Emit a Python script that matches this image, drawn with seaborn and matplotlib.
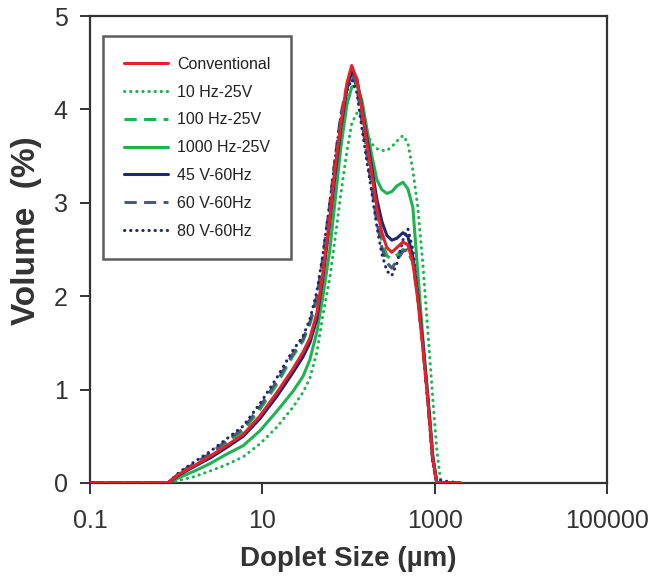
import matplotlib
matplotlib.use("Agg")
import matplotlib.pyplot as plt
import matplotlib.ticker as mticker
import seaborn as sns

# droplet size grid (um) and volume (%) per condition
sizes = [0.1, 0.8, 1.1, 1.65, 2.5, 3.7, 6.0, 9.4, 14.8, 22.6, 29.6, 35.6, 43, 50.5,
         60.8, 69.5, 81.6, 95.8, 109, 125, 143, 163, 187, 213, 244, 279, 318, 364,
         428, 489, 558, 638, 729, 834, 953, 1060, 1180, 1312, 2000]

conventional = [0, 0, 0.10, 0.19, 0.29, 0.39, 0.52, 0.72, 0.97, 1.22, 1.40, 1.55, 1.82,
                2.25, 2.85, 3.35, 3.85, 4.28, 4.47, 4.32, 4.00, 3.65, 3.30, 2.95, 2.68,
                2.52, 2.47, 2.52, 2.58, 2.55, 2.36, 1.96, 1.45, 0.89, 0.25, 0, 0, 0, 0]
hz10_25v = [0, 0, 0.03, 0.07, 0.13, 0.19, 0.28, 0.42, 0.60, 0.81, 0.97, 1.12, 1.40,
            1.80, 2.20, 2.60, 3.10, 3.55, 3.85, 3.96, 3.92, 3.75, 3.63, 3.58, 3.56,
            3.56, 3.60, 3.66, 3.72, 3.64, 3.35, 2.95, 2.35, 1.62, 0.89, 0.35, 0, 0, 0]
hz100_25v = [0, 0, 0.10, 0.20, 0.31, 0.42, 0.56, 0.79, 1.06, 1.36, 1.52, 1.70, 1.96,
             2.38, 2.95, 3.42, 3.92, 4.22, 4.36, 4.25, 3.90, 3.55, 3.20, 2.90, 2.60,
             2.43, 2.40, 2.44, 2.50, 2.48, 2.36, 1.98, 1.48, 0.88, 0.22, 0, 0, 0, 0]
hz1000_25v = [0, 0, 0.06, 0.13, 0.21, 0.30, 0.40, 0.56, 0.77, 0.98, 1.14, 1.32, 1.62,
              2.00, 2.50, 3.00, 3.60, 4.05, 4.24, 4.26, 4.10, 3.80, 3.50, 3.25, 3.14,
              3.10, 3.12, 3.18, 3.22, 3.15, 2.95, 2.25, 1.55, 0.92, 0.28, 0, 0, 0, 0]
v45_60hz = [0, 0, 0.09, 0.18, 0.27, 0.37, 0.50, 0.69, 0.93, 1.18, 1.35, 1.50, 1.76,
            2.20, 2.80, 3.28, 3.80, 4.22, 4.42, 4.33, 4.02, 3.70, 3.37, 3.04, 2.80,
            2.65, 2.60, 2.62, 2.68, 2.64, 2.42, 2.00, 1.50, 0.92, 0.28, 0, 0, 0, 0]
v60_60hz = [0, 0, 0.11, 0.21, 0.32, 0.44, 0.58, 0.82, 1.09, 1.38, 1.54, 1.72, 2.00,
            2.42, 3.00, 3.45, 3.95, 4.25, 4.38, 4.25, 3.88, 3.52, 3.15, 2.80, 2.52,
            2.36, 2.30, 2.38, 2.48, 2.50, 2.38, 2.00, 1.48, 0.88, 0.22, 0, 0, 0, 0]
v80_60hz = [0, 0, 0.12, 0.23, 0.34, 0.46, 0.61, 0.85, 1.13, 1.42, 1.57, 1.75, 2.05,
            2.45, 3.00, 3.45, 3.92, 4.20, 4.32, 4.18, 3.80, 3.45, 3.10, 2.75, 2.45,
            2.27, 2.22, 2.35, 2.60, 2.72, 2.50, 2.00, 1.45, 0.85, 0.20, 0.03, 0.03, 0.02, 0]

labels = ["Conventional", "10 Hz-25V", "100 Hz-25V", "1000 Hz-25V",
          "45 V-60Hz", "60 V-60Hz", "80 V-60Hz"]
series = [conventional, hz10_25v, hz100_25v, hz1000_25v, v45_60hz, v60_60hz, v80_60hz]

red = "#e8202a"
green = "#1db34f"
navy = "#1c2a6e"
slate = "#4e5b78"
dot = (0, (0.1, 1.9))
dash = (0, (4, 2.4))
styles = [
    dict(color=red, linestyle="-"),
    dict(color=green, linestyle=dot, dash_capstyle="round"),
    dict(color=green, linestyle=dash),
    dict(color=green, linestyle="-"),
    dict(color=navy, linestyle="-"),
    dict(color=slate, linestyle=dash),
    dict(color=navy, linestyle=dot, dash_capstyle="round"),
]
zorders = [9, 3, 4, 5, 8, 6, 7]

sns.set_style("ticks")
plt.rcParams["font.family"] = ["Liberation Sans", "DejaVu Sans"]

fig = plt.figure(figsize=(6.51, 5.78), dpi=100)
ax = fig.add_axes([90 / 651, 1 - 483 / 578, 517 / 651, 467 / 578])

for lab, vals, st, z in zip(labels, series, styles, zorders):
    sns.lineplot(x=sizes, y=vals, ax=ax, label=lab, linewidth=2.2, zorder=z, **st)

ax.set_xscale("log")
ax.set_xlim(0.1, 100000)
ax.set_ylim(0, 5)
ax.xaxis.set_major_locator(mticker.FixedLocator([0.1, 10, 1000, 100000]))
ax.xaxis.set_major_formatter(mticker.FixedFormatter(["0.1", "10", "1000", "100000"]))
ax.xaxis.set_minor_locator(mticker.NullLocator())
ax.set_yticks([0, 1, 2, 3, 4, 5])

for s in ax.spines.values():
    s.set_visible(True)
    s.set_linewidth(1.6)
    s.set_color("#333333")
ax.tick_params(axis="both", direction="out", width=1.4, color="#333333",
               labelsize=18, labelcolor="#333333")
ax.tick_params(axis="x", length=8, pad=11)
ax.tick_params(axis="y", length=7, pad=9)

ax.set_xlabel("Doplet Size (\u00b5m)", fontsize=20, fontweight="bold", color="#333333", labelpad=9)
ax.set_ylabel("Volume  (%)", fontsize=24, fontweight="bold", color="#333333")
ax.yaxis.set_label_coords(-0.092, 0.54)

leg = ax.legend(loc="upper left", bbox_to_anchor=(0.025, 0.957), borderaxespad=0,
                fontsize=11.5, handlelength=2.75, handletextpad=0.6, labelspacing=0.8,
                borderpad=1.3, frameon=True, fancybox=False)
leg.get_frame().set_edgecolor("#333333")
leg.get_frame().set_linewidth(1.8)
for t in leg.get_texts():
    t.set_color("#222222")

fig.savefig("out.png", dpi=100)
